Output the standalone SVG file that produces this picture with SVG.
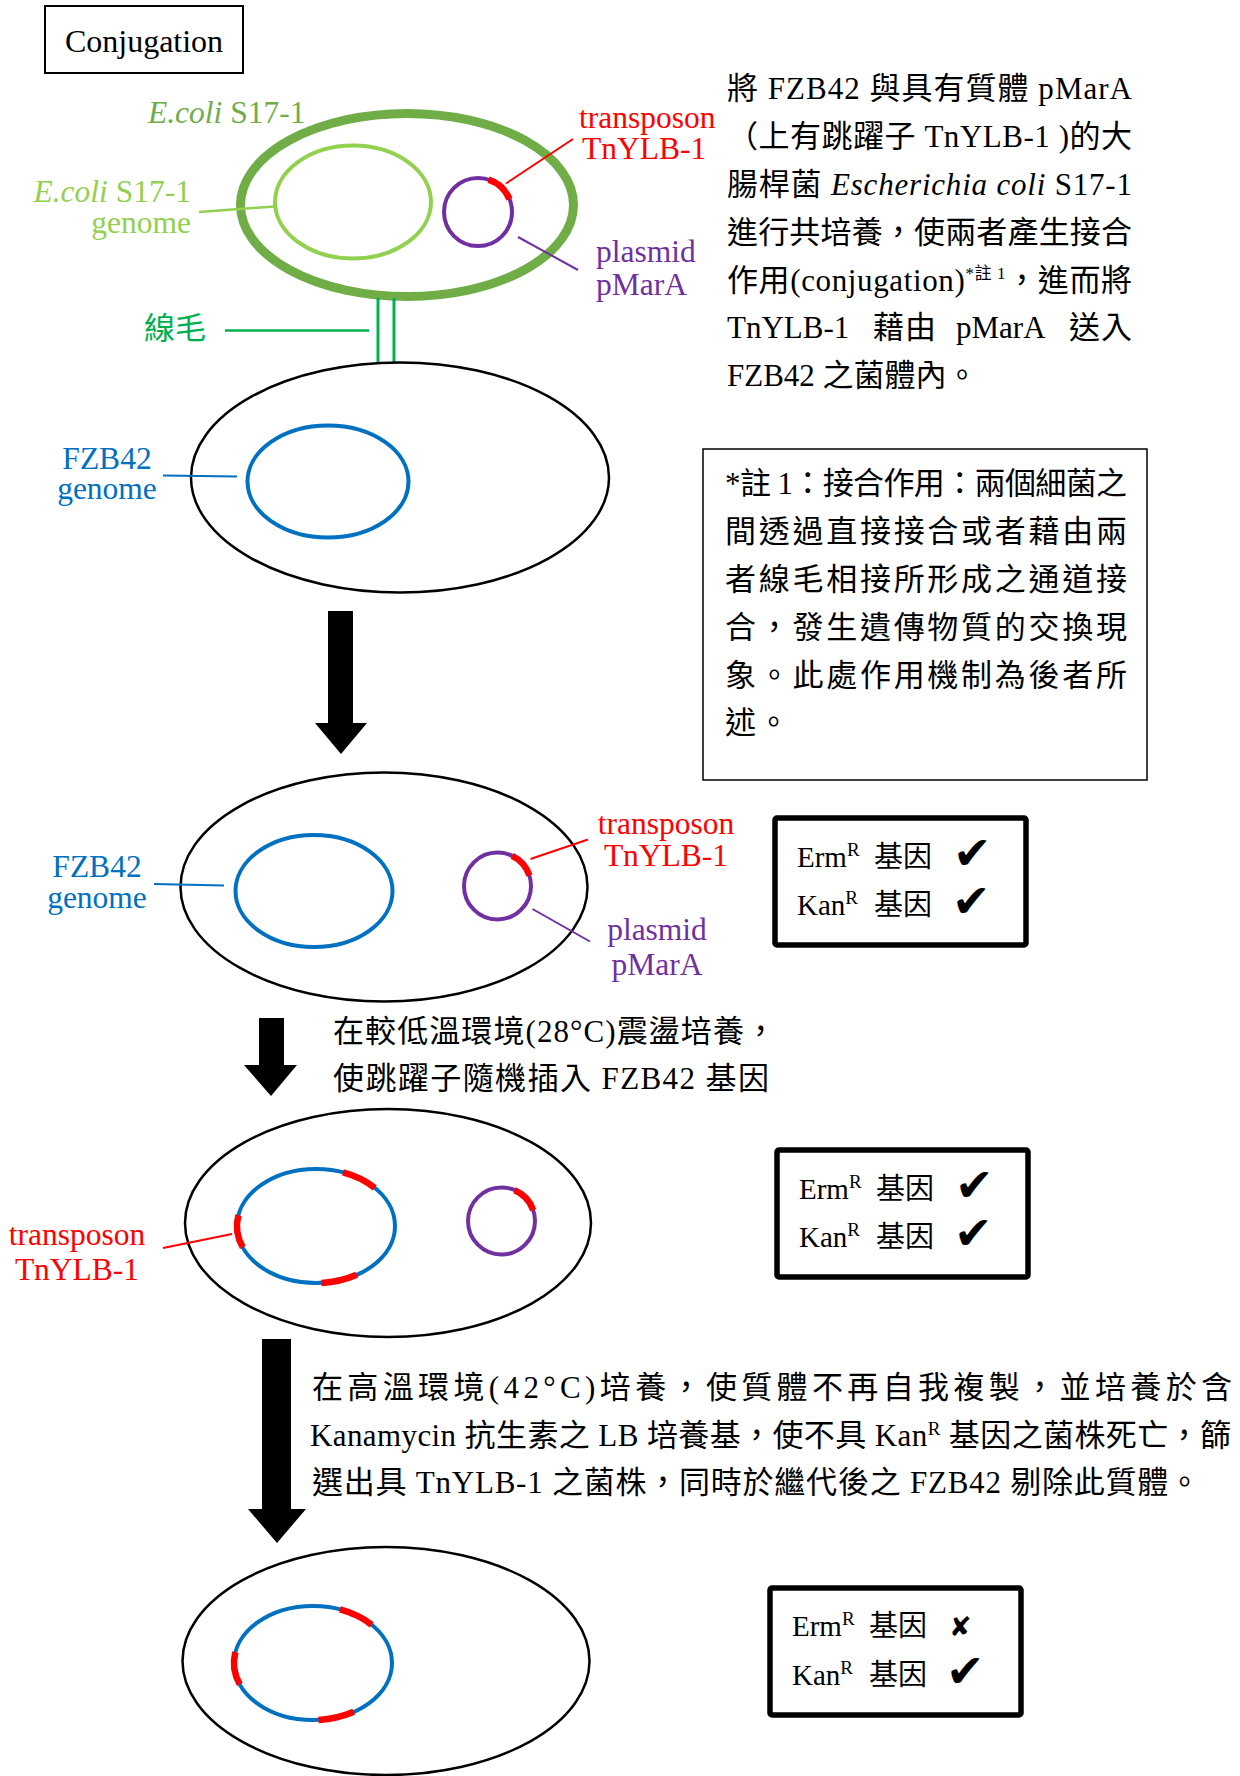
<svg xmlns="http://www.w3.org/2000/svg" xmlns:xlink="http://www.w3.org/1999/xlink" width="1240" height="1776" viewBox="0 0 1240 1776">
  <style>
    text { font-family: "Liberation Serif", "Noto Sans CJK TC", serif; fill: #000; }
    .body { font-size: 31px; }
    .lbl { font-size: 31.5px; }
    .box { font-size: 29px; }
    .sup { font-size: 19px; }
    .mark { font-family: "DejaVu Sans", sans-serif; font-size: 46px; }
    .cross { font-family: "DejaVu Sans", sans-serif; font-size: 27px; }
    .cell { fill: none; stroke: #000; stroke-width: 2.5; }
    .fzb { fill: none; stroke: #0070C0; stroke-width: 4; }
    .pls { fill: none; stroke: #7030A0; stroke-width: 4; }
    .tn { fill: none; stroke: #FF0000; stroke-width: 6.5; }
    .frame { fill: #fff; stroke: #000; stroke-width: 5.5; }
    .blue { fill: #0070C0; }
    .red { fill: #FF0000; }
    .purple { fill: #7030A0; }
    .arrow { fill: #000; }
  </style>
  <defs>
    <!-- FZB42 chromosome carrying random TnYLB-1 insertions -->
    <g id="tnGenome">
      <ellipse cx="0" cy="0" rx="79" ry="57" class="fzb"/>
      <path class="tn" d="M27,-53.6 A79,57 0 0 1 58.7,-38.1"/>
      <path class="tn" d="M-73.2,21.4 A79,57 0 0 1 -77.6,-10.9"/>
      <path class="tn" d="M40.7,48.8 A79,57 0 0 1 5.5,56.9"/>
    </g>
  </defs>

  <rect width="1240" height="1776" fill="#fff"/>

  <!-- title -->
  <g id="title">
    <rect x="45" y="6" width="198" height="67" fill="none" stroke="#000" stroke-width="2"/>
    <text x="144" y="52" font-size="32" text-anchor="middle">Conjugation</text>
  </g>

  <!-- donor: E. coli S17-1 with plasmid pMarA -->
  <g id="donor-ecoli">
    <ellipse cx="407" cy="205" rx="166.5" ry="91.5" fill="none" stroke="#70AD47" stroke-width="9"/>
    <ellipse cx="353" cy="202" rx="78" ry="56.5" fill="none" stroke="#92D050" stroke-width="4"/>
    <g transform="translate(478,212)">
      <circle r="34" class="pls"/>
      <path class="tn" d="M10.5,-32.3 A34,34 0 0 1 31.5,-12.7"/>
    </g>
    <line x1="378" y1="298" x2="378" y2="363" stroke="#00B050" stroke-width="3"/>
    <line x1="394" y1="298" x2="394" y2="363" stroke="#00B050" stroke-width="3"/>
    <text class="lbl" x="148" y="123" style="fill:#70AD47"><tspan font-style="italic">E.coli</tspan> S17-1</text>
    <text class="lbl" x="191" y="202" text-anchor="end" style="fill:#92D050"><tspan font-style="italic">E.coli</tspan> S17-1</text>
    <text class="lbl" x="191" y="233" text-anchor="end" style="fill:#92D050">genome</text>
    <text class="lbl red" x="579" y="128">transposon</text>
    <text class="lbl red" x="582" y="159">TnYLB-1</text>
    <text class="lbl purple" x="596" y="262">plasmid</text>
    <text class="lbl purple" x="596" y="295">pMarA</text>
    <text class="body" x="144" y="339" style="fill:#00B050">線毛</text>
  </g>

  <!-- recipient: FZB42 before conjugation -->
  <g id="recipient-fzb42">
    <ellipse cx="400" cy="477.5" rx="209" ry="115" class="cell"/>
    <ellipse cx="328" cy="481.5" rx="80.5" ry="56" class="fzb"/>
    <text class="lbl blue" x="107" y="469" text-anchor="middle">FZB42</text>
    <text class="lbl blue" x="107" y="499" text-anchor="middle">genome</text>
  </g>

  <!-- description paragraph -->
  <g id="description">
    <text class="body" x="727" y="99" textLength="405">將 FZB42 與具有質體 pMarA</text>
    <text class="body" x="727" y="147" textLength="405">（上有跳躍子 TnYLB-1 )的大</text>
    <text class="body" x="727" y="195" textLength="405">腸桿菌 <tspan font-style="italic">Escherichia coli</tspan> S17-1</text>
    <text class="body" x="727" y="243" textLength="405">進行共培養，使兩者產生接合</text>
    <text class="body" x="727" y="291" textLength="405">作用(conjugation)<tspan font-size="17" dy="-12">*註 1</tspan><tspan dy="12">，進而將</tspan></text>
    <text class="body" y="338"><tspan x="727">TnYLB-1</tspan><tspan x="873" letter-spacing="1">藉由</tspan><tspan x="956">pMarA</tspan><tspan x="1069" letter-spacing="1">送入</tspan></text>
    <text class="body" x="727" y="386">FZB42 之菌體內。</text>
  </g>

  <!-- footnote on conjugation -->
  <g id="footnote">
    <rect x="703" y="449" width="444" height="331" fill="none" stroke="#000" stroke-width="1.5"/>
    <text class="body" x="725" y="494" textLength="402">*註 1：接合作用：兩個細菌之</text>
    <text class="body" x="725" y="542" textLength="402">間透過直接接合或者藉由兩</text>
    <text class="body" x="725" y="590" textLength="402">者線毛相接所形成之通道接</text>
    <text class="body" x="725" y="638" textLength="402">合，發生遺傳物質的交換現</text>
    <text class="body" x="725" y="686" textLength="402">象。此處作用機制為後者所</text>
    <text class="body" x="725" y="733" letter-spacing="2">述。</text>
  </g>

  <!-- FZB42 after conjugation, carrying pMarA -->
  <g id="fzb42-with-plasmid">
    <ellipse cx="384" cy="887" rx="203.5" ry="114.5" class="cell"/>
    <ellipse cx="314" cy="891" rx="78.5" ry="56" class="fzb"/>
    <g transform="translate(497.5,886)">
      <circle r="33.5" class="pls"/>
      <path class="tn" d="M14.7,-30.1 A33.5,33.5 0 0 1 31.9,-10.4"/>
    </g>
    <text class="lbl blue" x="97" y="877" text-anchor="middle">FZB42</text>
    <text class="lbl blue" x="97" y="908" text-anchor="middle">genome</text>
    <text class="lbl red" x="666" y="834" text-anchor="middle">transposon</text>
    <text class="lbl red" x="666" y="866" text-anchor="middle">TnYLB-1</text>
    <text class="lbl purple" x="657" y="940" text-anchor="middle">plasmid</text>
    <text class="lbl purple" x="657" y="975" text-anchor="middle">pMarA</text>
  </g>

  <g id="genes-stage2">
    <rect x="775" y="818" width="251" height="127" rx="2" class="frame"/>
    <text class="box" x="797" y="867">Erm<tspan class="sup" dy="-11">R</tspan></text>
    <text class="box" x="874" y="867">基因</text>
    <text class="mark" x="953" y="869">✔</text>
    <text class="box" x="797" y="915">Kan<tspan class="sup" dy="-11">R</tspan></text>
    <text class="box" x="874" y="915">基因</text>
    <text class="mark" x="952" y="917">✔</text>
  </g>

  <!-- step 2 description -->
  <g id="step-28C">
    <text class="body" x="333" y="1042" textLength="443">在較低溫環境(28°C)震盪培養，</text>
    <text class="body" x="333" y="1089" textLength="436">使跳躍子隨機插入 FZB42 基因</text>
  </g>

  <!-- FZB42 with transposon inserted in the chromosome -->
  <g id="fzb42-inserted">
    <ellipse cx="388" cy="1223" rx="203" ry="114" class="cell"/>
    <use xlink:href="#tnGenome" transform="translate(316,1226)"/>
    <g transform="translate(501.5,1221)">
      <circle r="33.5" class="pls"/>
      <path class="tn" d="M13.1,-30.8 A33.5,33.5 0 0 1 31.7,-10.9"/>
    </g>
    <text class="lbl red" x="77" y="1245" text-anchor="middle">transposon</text>
    <text class="lbl red" x="77" y="1280" text-anchor="middle">TnYLB-1</text>
  </g>

  <g id="genes-stage3">
    <rect x="777" y="1150" width="251" height="127" rx="2" class="frame"/>
    <text class="box" x="799" y="1199">Erm<tspan class="sup" dy="-11">R</tspan></text>
    <text class="box" x="876" y="1199">基因</text>
    <text class="mark" x="955" y="1201">✔</text>
    <text class="box" x="799" y="1247">Kan<tspan class="sup" dy="-11">R</tspan></text>
    <text class="box" x="876" y="1247">基因</text>
    <text class="mark" x="954" y="1249">✔</text>
  </g>

  <!-- step 3 description -->
  <g id="step-42C">
    <text class="body" x="312" y="1398" textLength="920">在高溫環境(42°C)培養，使質體不再自我複製，並培養於含</text>
    <text class="body" x="310" y="1446" textLength="921">Kanamycin 抗生素之 LB 培養基，使不具 Kan<tspan font-size="19" dy="-11">R</tspan><tspan dy="11"> 基因之菌株死亡，篩</tspan></text>
    <text class="body" x="312" y="1493" textLength="888">選出具 TnYLB-1 之菌株，同時於繼代後之 FZB42 剔除此質體。</text>
  </g>

  <!-- final strain: plasmid cured -->
  <g id="fzb42-cured">
    <ellipse cx="386" cy="1661" rx="203.5" ry="114" class="cell"/>
    <use xlink:href="#tnGenome" transform="translate(313,1663)"/>
  </g>

  <g id="genes-stage4">
    <rect x="770" y="1588" width="251" height="127" rx="2" class="frame"/>
    <text class="box" x="792" y="1636">Erm<tspan class="sup" dy="-11">R</tspan></text>
    <text class="box" x="869" y="1636">基因</text>
    <text class="cross" x="949" y="1636">✘</text>
    <text class="box" x="792" y="1685">Kan<tspan class="sup" dy="-11">R</tspan></text>
    <text class="box" x="869" y="1685">基因</text>
    <text class="mark" x="946" y="1687">✔</text>
  </g>

  <!-- leader lines and process arrows -->
  <g id="connectors">
    <line x1="506" y1="183.5" x2="573" y2="139" stroke="#FF0000" stroke-width="2"/>
    <line x1="518" y1="237" x2="578" y2="270" stroke="#7030A0" stroke-width="2"/>
    <line x1="199" y1="212" x2="274" y2="206.5" stroke="#92D050" stroke-width="2.5"/>
    <line x1="225" y1="330.5" x2="369" y2="330.5" stroke="#00B050" stroke-width="2.5"/>
    <line x1="163" y1="475.5" x2="237" y2="476.5" stroke="#0070C0" stroke-width="2"/>
    <line x1="530.5" y1="859" x2="588" y2="839.5" stroke="#FF0000" stroke-width="2"/>
    <line x1="532.5" y1="909" x2="590" y2="941.5" stroke="#7030A0" stroke-width="2"/>
    <line x1="154" y1="884" x2="224" y2="885.5" stroke="#0070C0" stroke-width="2"/>
    <line x1="163" y1="1248" x2="232" y2="1234" stroke="#FF0000" stroke-width="2"/>
    <path class="arrow" d="M328,611 H353 V723 H367 L341,754 L315,723 H328 Z"/>
    <path class="arrow" d="M259,1018 H284 V1065 H297 L271,1096 L244,1065 H259 Z"/>
    <path class="arrow" d="M262,1339 H291 V1509 H306 L277,1543 L248,1509 H262 Z"/>
  </g>
</svg>
